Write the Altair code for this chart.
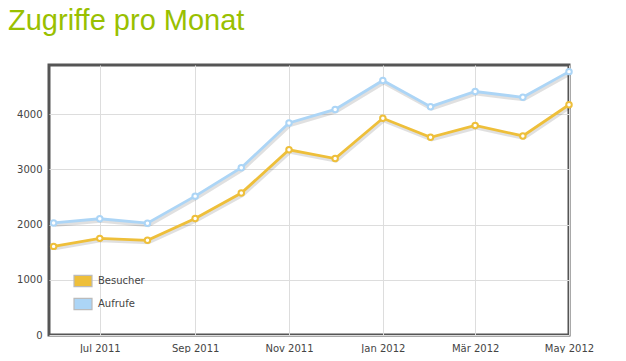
import altair as alt
import pandas as pd

months = ["2011-06-01", "2011-07-01", "2011-08-01", "2011-09-01", "2011-10-01", "2011-11-01",
          "2011-12-01", "2012-01-01", "2012-02-01", "2012-03-01", "2012-04-01", "2012-05-01"]
besucher = [1605, 1750, 1715, 2110, 2570, 3355, 3195, 3925, 3580, 3795, 3605, 4170]
aufrufe = [2030, 2105, 2025, 2515, 3030, 3840, 4085, 4610, 4135, 4410, 4305, 4770]
series = ["Besucher", "Aufrufe"]
colors = ["#eebf3a", "#acd5f6"]
tick_keys = ["2011-07", "2011-09", "2011-11", "2012-01", "2012-03", "2012-05"]
tick_labels = ["Jul 2011", "Sep 2011", "Nov 2011", "Jan 2012", "Mär 2012", "May 2012"]
y_ticks = [0, 1000, 2000, 3000, 4000]

rows = []
for m, b, a in zip(months, besucher, aufrufe):
    rows.append({"Monat": m, "Serie": "Besucher", "Legende": "Besucher", "Wert": b})
    rows.append({"Monat": m, "Serie": "Aufrufe", "Legende": "Aufrufe", "Wert": a})
df = pd.DataFrame(rows)

tick_values = [alt.DateTime(year=int(k[:4]), month=int(k[5:]), date=1, utc=True) for k in tick_keys]
label_map = "{" + ", ".join(f"'{k}': '{l}'" for k, l in zip(tick_keys, tick_labels)) + "}"

x = alt.X("Monat:T",
          scale=alt.Scale(type="utc",
                          domain=[alt.DateTime(year=2011, month=5, date=29, utc=True),
                                  alt.DateTime(year=2012, month=5, date=1, utc=True)]),
          axis=alt.Axis(values=tick_values, labelExpr=label_map + "[utcFormat(datum.value, '%Y-%m')]",
                        title=None, domain=False, ticks=False, labelPadding=8,
                        grid=True, gridColor="#dddddd", labelFlush=False))
y = alt.Y("Wert:Q", scale=alt.Scale(domain=[0, 4890], nice=False, zero=True),
          axis=alt.Axis(values=y_ticks, format="d", title=None, domain=False, ticks=False,
                        labelPadding=7, grid=True, gridColor="#dddddd"))
color_scale = alt.Scale(domain=series, range=colors)

base = alt.Chart(df)

shadow = base.mark_line(strokeWidth=4, xOffset=1, yOffset=2, opacity=0.12, color="#000000").encode(
    x=x, y=y, detail="Serie:N")

lines = base.mark_line(strokeWidth=2.8).encode(
    x=x, y=y, color=alt.Color("Serie:N", scale=color_scale, legend=None))

points = base.mark_point(filled=False, fill="white", fillOpacity=1, size=30, strokeWidth=2,
                         opacity=1, shape="circle").encode(
    x=x, y=y, color=alt.Color("Serie:N", scale=color_scale, legend=None))

legend_layer = base.mark_point(filled=True, opacity=0, shape="square").encode(
    x=x, y=y,
    fill=alt.Fill("Legende:N", sort=series, scale=alt.Scale(range=colors),
                  legend=alt.Legend(title=None, orient="none", legendX=24, legendY=206,
                                    padding=0, symbolType="M-1,-0.63H1V0.63H-1Z", symbolSize=324,
                                    symbolStrokeColor="#bbbbbb", symbolStrokeWidth=1.2,
                                    symbolOpacity=1, rowPadding=4, labelOffset=5,
                                    labelFont="DejaVu Sans", labelFontSize=10,
                                    labelColor="#444444")))

chart = alt.layer(shadow, lines, points, legend_layer).properties(
    width=520, height=270,
    autosize=alt.AutoSizeParams(type="none"),
    padding={"left": 41, "top": 57, "right": 49, "bottom": 18},
    title=alt.TitleParams("Zugriffe pro Monat", anchor="start", frame="group", orient="top",
                          font="Liberation Sans", fontSize=29, fontWeight="normal",
                          color="#99c000", baseline="alphabetic", offset=6, dx=-41),
    background="white",
).configure_view(stroke="#555555", strokeWidth=3).configure_axis(
    labelFont="DejaVu Sans", labelFontSize=10, labelColor="#444444", gridWidth=1)

chart.save("out.html", embed_options={"renderer": "svg", "actions": False})
